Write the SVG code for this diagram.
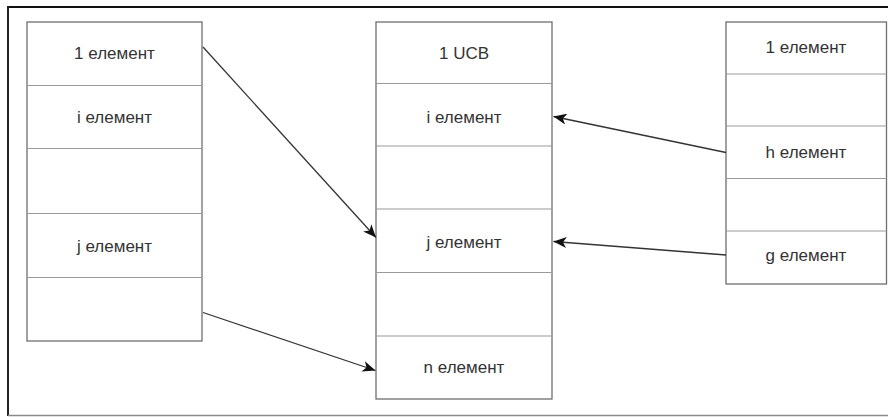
<svg xmlns="http://www.w3.org/2000/svg" width="888" height="417" viewBox="0 0 888 417">
  <style>
    .box { fill: #ffffff; stroke: #6f6f6f; stroke-width: 1.3; }
    .div { stroke: #9a9a9a; stroke-width: 1.2; fill: none; }
    .lbl { font-family: "Liberation Sans", Arial, sans-serif; font-size: 17px; fill: #333333; text-anchor: middle; }
    .conn { stroke: #333333; stroke-width: 1.3; fill: none; marker-end: url(#arrow); }
  </style>
  <defs>
    <marker id="arrow" viewBox="0 0 13 11" refX="13" refY="5.5" markerWidth="13" markerHeight="11" markerUnits="userSpaceOnUse" orient="auto">
      <path d="M0,0 L13,5.5 L0,11 L3.5,5.5 z" fill="#111111"/>
    </marker>
  </defs>

  <rect x="0" y="0" width="888" height="417" fill="#ffffff"/>

  <!-- outer frame -->
  <g id="frame">
    <line x1="7" y1="7" x2="888" y2="7" stroke="#111111" stroke-width="2"/>
    <line x1="8" y1="6" x2="8" y2="416" stroke="#222222" stroke-width="2"/>
    <line x1="8" y1="415.5" x2="888" y2="415.5" stroke="#8a8a8a" stroke-width="1.5"/>
  </g>

  <!-- left table -->
  <g id="left-table">
    <rect class="box" x="27" y="22" width="175" height="319"/>
    <line class="div" x1="27" y1="85.5" x2="202" y2="85.5"/>
    <line class="div" x1="27" y1="148.5" x2="202" y2="148.5"/>
    <line class="div" x1="27" y1="213.5" x2="202" y2="213.5"/>
    <line class="div" x1="27" y1="277.5" x2="202" y2="277.5"/>
    <text class="lbl" x="114.5" y="59">1 елемент</text>
    <text class="lbl" x="114.5" y="123">i елемент</text>
    <text class="lbl" x="114.5" y="252">j елемент</text>
  </g>

  <!-- middle table -->
  <g id="ucb-table">
    <rect class="box" x="376" y="22" width="176" height="377"/>
    <line class="div" x1="376" y1="83.5" x2="552" y2="83.5"/>
    <line class="div" x1="376" y1="146" x2="552" y2="146"/>
    <line class="div" x1="376" y1="209" x2="552" y2="209"/>
    <line class="div" x1="376" y1="272.5" x2="552" y2="272.5"/>
    <line class="div" x1="376" y1="336" x2="552" y2="336"/>
    <text class="lbl" x="464" y="59">1 UCB</text>
    <text class="lbl" x="464" y="122.5">i елемент</text>
    <text class="lbl" x="464" y="247.5">j елемент</text>
    <text class="lbl" x="464" y="372.5">n елемент</text>
  </g>

  <!-- right table -->
  <g id="right-table">
    <rect class="box" x="726" y="22" width="160.5" height="262"/>
    <line class="div" x1="726" y1="74" x2="886.5" y2="74"/>
    <line class="div" x1="726" y1="126" x2="886.5" y2="126"/>
    <line class="div" x1="726" y1="178.5" x2="886.5" y2="178.5"/>
    <line class="div" x1="726" y1="231" x2="886.5" y2="231"/>
    <text class="lbl" x="806" y="53">1 елемент</text>
    <text class="lbl" x="806" y="158">h елемент</text>
    <text class="lbl" x="806" y="261">g елемент</text>
  </g>

  <!-- connectors -->
  <g id="connectors">
    <line class="conn" x1="203" y1="47" x2="376" y2="237.5"/>
    <line class="conn" x1="203" y1="312.5" x2="375.5" y2="370.5"/>
    <line class="conn" x1="726" y1="152.5" x2="553.5" y2="116.5"/>
    <line class="conn" x1="726" y1="255" x2="553.5" y2="241.5"/>
  </g>
</svg>
